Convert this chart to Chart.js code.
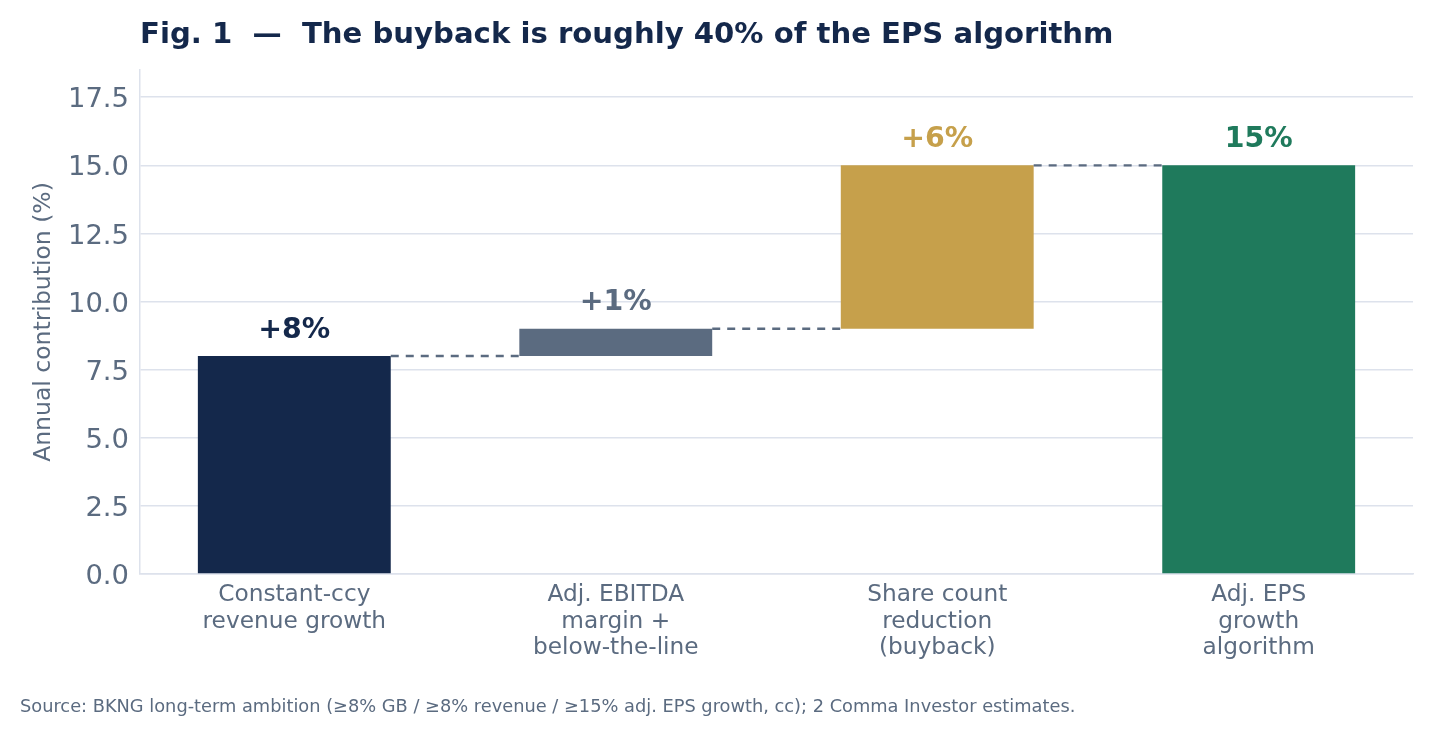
<!DOCTYPE html>
<html>
<head>
<meta charset="utf-8">
<script src="https://cdn.jsdelivr.net/npm/chart.js@4"></script>
<style>
  html, body { margin: 0; padding: 0; background: #ffffff; }
  #wrap { position: relative; width: 1432px; height: 735px; }
  canvas { display: block; }
</style>
</head>
<body>
<div id="wrap"><canvas id="c" width="1432" height="735"></canvas></div>
<script>
// ---- data ----
const categories = [
  ["Constant-ccy", "revenue growth"],
  ["Adj. EBITDA", "margin +", "below-the-line"],
  ["Share count", "reduction", "(buyback)"],
  ["Adj. EPS", "growth", "algorithm"]
];
const barStart = [0, 8, 9, 0];
const barEnd   = [8, 9, 15, 15];
const valueLabels = ["+8%", "+1%", "+6%", "15%"];
const connectorLevels = [8, 9, 15];
const yTicks = [0, 2.5, 5, 7.5, 10, 12.5, 15, 17.5];

const titleText = "Fig. 1  \u2014  The buyback is roughly 40% of the EPS algorithm";
const sourceText = "Source: BKNG long-term ambition (\u22658% GB / \u22658% revenue / \u226515% adj. EPS growth, cc); 2 Comma Investor estimates.";

// ---- styles ----
const barColors = ["#14284B", "#5B6B80", "#C6A04B", "#1F7A5C"];
const textGray = "#5B6B80";
const gridColor = "#DDE2EC";
const FONT = "'DejaVu Sans', sans-serif";

const barData = categories.map((c, i) => ({ x: i, y: [barStart[i], barEnd[i]] }));
const connectorSets = connectorLevels.map((lvl, i) => ({
  type: "line",
  data: [{ x: i + 0.3, y: lvl }, { x: i + 0.7, y: lvl }],
  borderColor: textGray,
  borderWidth: 2.4,
  borderDash: [8, 7],
  pointRadius: 0,
  fill: false,
  order: 0
}));

const decorPlugin = {
  id: "decor",
  afterDatasetsDraw(chart) {
    const ctx = chart.ctx;
    const xs = chart.scales.x, ys = chart.scales.y;
    ctx.save();
    ctx.font = "bold 28.4px " + FONT;
    ctx.textAlign = "center";
    ctx.textBaseline = "alphabetic";
    valueLabels.forEach((lab, i) => {
      ctx.fillStyle = barColors[i];
      ctx.fillText(lab, xs.getPixelForValue(i), ys.getPixelForValue(barEnd[i]) - 18.5);
    });
    ctx.restore();
  },
  afterDraw(chart) {
    const ctx = chart.ctx;
    ctx.save();
    ctx.textAlign = "left";
    ctx.textBaseline = "alphabetic";
    ctx.fillStyle = "#14284B";
    ctx.font = "bold 29.15px " + FONT;
    ctx.fillText(titleText, 140, 43);
    ctx.fillStyle = textGray;
    ctx.font = "17.8px " + FONT;
    ctx.fillText(sourceText, 20, 712);
    ctx.restore();
  }
};

new Chart(document.getElementById("c"), {
  data: {
    datasets: [
      {
        type: "bar",
        data: barData,
        backgroundColor: barColors,
        borderWidth: 0,
        barPercentage: 0.6,
        categoryPercentage: 1.0,
        order: 1
      },
      ...connectorSets
    ]
  },
  options: {
    responsive: false,
    animation: false,
    devicePixelRatio: 1,
    layout: { padding: { top: 70, right: 19, bottom: 0, left: 0 } },
    plugins: { legend: { display: false }, tooltip: { enabled: false }, title: { display: false } },
    scales: {
      x: {
        type: "linear",
        min: -0.48,
        max: 3.48,
        offset: false,
        afterFit(scale) { scale.height = 161; },
        afterBuildTicks(scale) { scale.ticks = categories.map((c, i) => ({ value: i })); },
        grid: { display: false, drawTicks: false, offset: false },
        border: { display: true, color: gridColor, width: 1.5 },
        ticks: {
          autoSkip: false,
          maxRotation: 0,
          padding: 8,
          color: textGray,
          font: { family: FONT, size: 23.25, lineHeight: 1.14 },
          callback: (v) => categories[v]
        }
      },
      y: {
        min: 0,
        max: 18.5,
        afterFit(scale) { scale.width = 140; },
        afterBuildTicks(scale) { scale.ticks = yTicks.map(v => ({ value: v })); },
        grid: { color: gridColor, lineWidth: 1.5, drawTicks: false },
        border: { display: true, color: gridColor, width: 1.5 },
        ticks: {
          padding: 11,
          labelOffset: 3,
          color: textGray,
          font: { family: FONT, size: 27.4 },
          callback: (v) => Number(v).toFixed(1)
        },
        title: {
          display: true,
          text: "Annual contribution (%)",
          color: textGray,
          font: { family: FONT, size: 23.5 },
          padding: { top: 30, bottom: 0 }
        }
      }
    }
  },
  plugins: [decorPlugin]
});
</script>
</body>
</html>
